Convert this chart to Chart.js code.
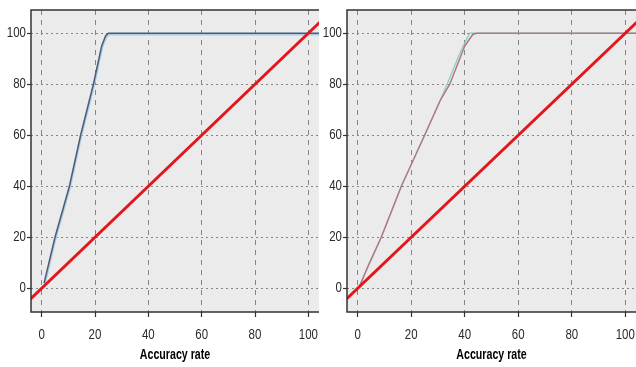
<!DOCTYPE html>
<html>
<head>
<meta charset="utf-8">
<script src="https://cdn.jsdelivr.net/npm/chart.js@4.4.0/dist/chart.umd.min.js"></script>
<style>
html, body { margin: 0; padding: 0; background: #fff; }
#leftChart { position: absolute; left: 0; top: 0; }
#rightChart { position: absolute; left: 316px; top: 0; }
</style>
</head>
<body>
<canvas id="leftChart" width="320" height="367"></canvas>
<canvas id="rightChart" width="320" height="367"></canvas>
<script>
/*tick values*/
const xTicks = [0, 20, 40, 60, 80, 100];
const yTicks = [0, 20, 40, 60, 80, 100];
const axisTitle = 'Accuracy rate';

/*diagonal reference line*/
const diagX = [-10, 110];
const diagY = [-10, 110];

/*left panel curves*/
const leftDarkX = [0.9, 5, 10.4, 14.6, 19.4, 22.5, 24, 25, 110];
const leftDarkY = [2, 20, 40, 60, 80, 95, 99, 100, 100];
const leftLightX = [1.2, 5.3, 10.7, 14.9, 19.7, 22.8, 24.4, 25.4, 110];
const leftLightY = [1.5, 19.5, 39.5, 59.5, 79.5, 94.5, 98.6, 99.4, 99.4];

/*right panel curves*/
const rightPinkX = [0.6, 3.8, 8.8, 16.3, 25, 31, 34.4, 40, 43, 44.4, 110];
const rightPinkY = [0.6, 8.5, 20, 40, 60, 74, 80, 95, 99.5, 100, 100];
const rightCyanX = [0.6, 3.8, 8.8, 16.3, 25, 31, 33.8, 38.5, 41.8, 110];
const rightCyanY = [0.6, 8.5, 20, 40, 60, 74, 81, 93, 100, 100];

const fam = "'Liberation Sans', Arial, sans-serif";

function pts(xs, ys) {
  return xs.map((x, i) => ({ x: x, y: ys[i] }));
}

function line(xs, ys, color, width) {
  return {
    data: pts(xs, ys),
    borderColor: color,
    borderWidth: width,
    pointRadius: 0,
    showLine: true,
    fill: false,
    tension: 0
  };
}

/*testo stretto tipo Arial Narrow*/
const narrowText = {
  id: 'narrowText',
  beforeInit(chart) {
    const c = chart.ctx;
    const orig = c.fillText;
    c.fillText = function (t, x, y) {
      const k = this.font.indexOf('bold') >= 0 ? 0.76 : 0.82;
      this.save();
      this.translate(x, y);
      this.scale(k, 1);
      orig.call(this, t, 0, 0);
      this.restore();
    };
  }
};

/*sfondo grigio e cornice*/
const frame = {
  id: 'frame',
  beforeDraw(chart) {
    const a = chart.chartArea, c = chart.ctx;
    c.save();
    c.fillStyle = '#ebebeb';
    c.fillRect(a.left, a.top, a.right - a.left, a.bottom - a.top);
    c.restore();
  },
  afterDraw(chart) {
    const a = chart.chartArea, c = chart.ctx;
    c.save();
    c.strokeStyle = '#333';
    c.lineWidth = 1.5;
    c.beginPath();
    c.moveTo(a.right, a.top);
    c.lineTo(a.left, a.top);
    c.lineTo(a.left, a.bottom);
    c.lineTo(a.right, a.bottom);
    c.stroke();
    c.restore();
  }
};

function makeChart(id, datasets, padRight) {
  const ctx = document.getElementById(id).getContext('2d');
  return new Chart(ctx, {
    type: 'scatter',
    data: { datasets: datasets },
    options: {
      responsive: false,
      animation: false,
      devicePixelRatio: 1,
      layout: { padding: { left: 0, top: 10, right: padRight, bottom: 0 } },
      plugins: { legend: { display: false }, tooltip: { enabled: false } },
      scales: {
        x: {
          type: 'linear',
          min: -4,
          max: 104,
          afterBuildTicks: s => { s.ticks = xTicks.map(v => ({ value: v })); },
          afterFit: s => { s.height = 55; s.paddingLeft = 0; s.paddingRight = 0; },
          grid: { color: '#858585', lineWidth: 1, tickLength: 5, tickColor: '#333', tickWidth: 1.2 },
          border: { display: false, dash: [5, 5] },
          ticks: { color: '#2a2a2a', padding: 10, font: { family: fam, size: 14 } },
          title: { display: true, text: axisTitle, color: '#000', padding: { top: 0, bottom: 3 },
                   font: { family: fam, size: 14, weight: 'bold' } }
        },
        y: {
          type: 'linear',
          min: -9.3,
          max: 109.1,
          afterBuildTicks: s => { s.ticks = yTicks.map(v => ({ value: v })); },
          afterFit: s => { s.width = 31; s.paddingTop = 0; s.paddingBottom = 0; },
          grid: { color: '#858585', lineWidth: 1, tickLength: 4, tickColor: '#333', tickWidth: 1.2 },
          border: { display: false, dash: [2, 3] },
          ticks: { color: '#2a2a2a', padding: 1, font: { family: fam, size: 14 } }
        }
      }
    },
    plugins: [narrowText, frame]
  });
}

makeChart('leftChart', [
  line(diagX, diagY, '#e3161c', 3),
  line(leftDarkX, leftDarkY, '#4d5a7a', 1.5),
  line(leftLightX, leftLightY, '#a9cde3', 1.5)
], 1);

makeChart('rightChart', [
  line(diagX, diagY, '#e3161c', 3),
  line(rightPinkX, rightPinkY, '#b07a84', 1.5),
  line(rightCyanX, rightCyanY, '#86cccc', 1.2)
], 0);
</script>
</body>
</html>
